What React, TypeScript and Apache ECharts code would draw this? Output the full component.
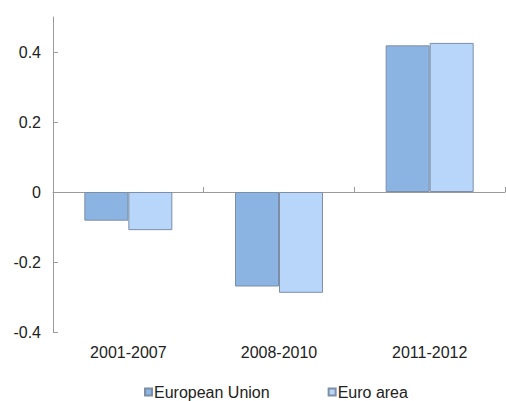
import React, { useEffect, useRef } from "react";
import * as echarts from "echarts";

const categories = ["2001-2007", "2008-2010", "2011-2012"];
const europeanUnion = [-0.082, -0.27, 0.419];
const euroArea = [-0.109, -0.288, 0.426];
const yTickValues = [-0.4, -0.2, 0, 0.2, 0.4];

const FONT = "Liberation Sans, Arial, sans-serif";
const AXIS_GRAY = "#9a9a9a";
const BORDER = "#7d8ea6";

export default function App() {
  const ref = useRef<HTMLDivElement>(null);

  useEffect(() => {
    if (!ref.current) return;
    const chart = echarts.init(ref.current, undefined, { renderer: "svg" });
    chart.setOption({
      animation: false,
      backgroundColor: "#ffffff",
      grid: { left: 53, right: 1, top: 17, bottom: 69, containLabel: false },
      legend: {
        left: 139,
        top: 379,
        icon: "rect",
        itemWidth: 7,
        itemHeight: 7,
        itemGap: 58,
        textStyle: { fontFamily: FONT, fontSize: 16, color: "#222", padding: [0, 0, 0, -3] },
        data: ["European Union", "Euro area"],
      },
      xAxis: [
        {
          type: "category",
          data: categories,
          axisLine: { show: false, onZero: false },
          axisTick: { show: false },
          axisLabel: { fontFamily: FONT, fontSize: 16, color: "#222", margin: 12 },
        },
        {
          type: "category",
          data: categories,
          axisLine: { show: true, onZero: true, lineStyle: { color: AXIS_GRAY, width: 1 } },
          axisTick: { show: true, length: 5, lineStyle: { color: AXIS_GRAY } },
          axisLabel: { show: false },
        },
      ],
      yAxis: {
        type: "value",
        min: -0.4,
        max: 0.5,
        axisLine: { show: true, lineStyle: { color: AXIS_GRAY, width: 1 } },
        axisTick: {
          show: true,
          inside: true,
          length: 5,
          lineStyle: { color: AXIS_GRAY },
          customValues: yTickValues,
        },
        axisLabel: {
          fontFamily: FONT,
          fontSize: 16,
          color: "#222",
          margin: 12,
          customValues: yTickValues,
          formatter: (v: number) => (Math.abs(v) < 1e-9 ? "0" : String(Math.round(v * 10) / 10)),
        },
        splitLine: { show: false },
      },
      series: [
        {
          name: "European Union",
          type: "bar",
          xAxisIndex: 0,
          data: europeanUnion,
          barWidth: 44,
          barGap: "0%",
          itemStyle: { color: "#8cb4e2", borderColor: BORDER, borderWidth: 1 },
        },
        {
          name: "Euro area",
          type: "bar",
          xAxisIndex: 0,
          data: euroArea,
          barWidth: 44,
          barGap: "0%",
          itemStyle: { color: "#b7d6fa", borderColor: BORDER, borderWidth: 1 },
        },
      ],
    });
    return () => chart.dispose();
  }, []);

  return <div ref={ref} style={{ width: 506, height: 401, position: "absolute", left: 0, top: 0 }} />;
}
